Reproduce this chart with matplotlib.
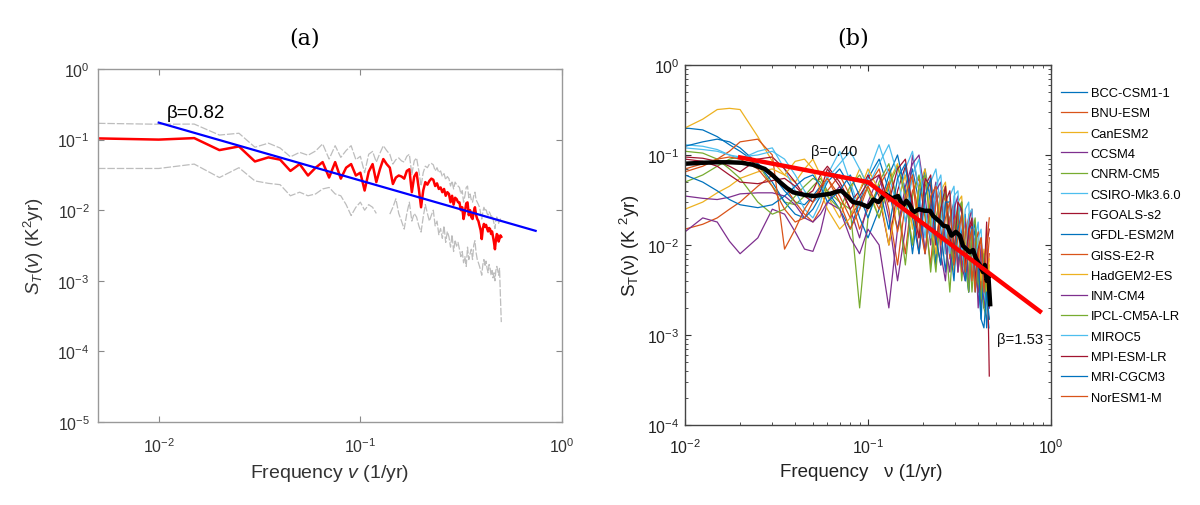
import numpy as np
import matplotlib
matplotlib.use('Agg')
import matplotlib.pyplot as plt
from matplotlib.ticker import NullLocator, LogLocator

plt.rcParams['font.family'] = ['Liberation Sans', 'DejaVu Sans']
plt.rcParams['mathtext.fontset'] = 'custom'
plt.rcParams['mathtext.rm'] = 'Liberation Sans'
plt.rcParams['mathtext.it'] = 'Liberation Sans:italic'
plt.rcParams['mathtext.bf'] = 'Liberation Sans:bold'

# ---------------- panel (a): observed spectrum, values in 1e-3 K^2 yr
freq_a = np.arange(1, 101) * 0.005
obs_red = [104, 100, 105, 71, 80, 49, 56, 52, 36, 45,
           31, 40, 48, 29, 48, 28, 40, 45, 31, 34,
           19, 35, 45, 25, 38, 53, 45, 40, 23.5, 29,
           31, 30, 28, 36, 38, 18, 30, 34, 20, 11,
           19, 25, 23, 26, 28, 27, 22, 24, 20, 21,
           18, 20, 16, 18, 17, 13, 16, 12, 15, 14.4,
           13, 12.9, 10, 11, 7.5, 9.5, 12.5, 12.9, 8.5, 10,
           8, 7.5, 9.5, 11, 8.5, 7.5, 7, 6, 5.2, 3.9,
           5.5, 6.4, 5.8, 6.2, 5.5, 5, 5.6, 5.4, 4.6, 5,
           4.2, 3.5, 2.8, 3.8, 4.6, 4.4, 3.6, 4, 4.4, 4.2]
obs_upper = [170, 165, 166, 116, 123, 78, 89, 76, 57, 66,
             60, 69, 87, 53, 82, 56, 70, 82, 52, 58,
             34, 62, 68, 48, 64, 82, 70, 62, 45, 52,
             55, 50, 48, 58, 62, 32, 50, 55, 36, 22,
             34, 42, 40, 45, 46, 44, 36, 40, 34, 36,
             30, 33, 27, 30, 28, 22, 26, 20, 25, 23,
             22, 21, 17, 19, 13, 16, 21, 22, 15, 17,
             14, 13, 16, 18, 14, 13, 12, 11, 9, 7.5,
             9.5, 11, 10, 10.5, 9, 8.5, 9.5, 9, 8, 8.5,
             7.5, 6.5, 5.5, 7, 8, 7.5, 6.5, 7, 7.5, 7]
obs_lower = [39, 39, 45, 29, 40, 26, 24, 23, 16, 18,
             16, 17, 20, 21, 17, 16, 12, 8.4, 11, 13,
             10, 12, 11, 9, np.nan, np.nan, np.nan, 8.8, 11, 14.5,
             9, 7, 5.4, 9, 13, 7, 9, 8, 6, 4.9,
             8, 12, 9, 7, 8.5, 10, 6, 7, 4.5, 5.5,
             4, 6, 3.5, 5, 4.2, 3, 4.5, 2.6, 3.8, 3.1,
             3.5, 2.8, 2.2, 2.6, 1.8, 2.2, 1.6, 3, 2, 2.4,
             2.8, 2, 3.2, 3.7, 2.5, 2, 1.8, 1.6, 1.4, 1.2,
             1.7, 2, 1.6, 1.9, 1.5, 1.3, 1.7, 1.5, 1.2, 1.4,
             1.1, 1.3, 1.0, 1.4, 1.6, 1.4, 1.2, 1.5, 0.6, 0.26]
fit_a_f = [0.01, 0.74]
fit_a_s = [0.174, 0.0051]

# ---------------- panel (b): CMIP5 model spectra, values in 1e-3 K^2 yr
freq_b = [0.010, 0.0125, 0.015, 0.0175, 0.020, 0.025, 0.030, 0.035, 0.040,
          0.045, 0.050, 0.055, 0.060, 0.070, 0.080, 0.090, 0.100,
          0.115, 0.130, 0.145, 0.160, 0.175, 0.190, 0.205, 0.220, 0.235,
          0.250, 0.265, 0.280, 0.295, 0.310, 0.325, 0.340, 0.355, 0.370,
          0.385, 0.400, 0.415, 0.430, 0.445, 0.460]

bcc = [200, 190, 160, 130, 110, 80, 60, 40, 30, 28, 35, 45, 40, 25, 15, 30, 55,
       90, 40, 15, 35, 70, 30, 8, 28, 45, 15, 5, 20, 30, 6, 14, 22, 4, 10, 15, 3, 7, 2, 5, 2.5]
bnu = [15, 17, 20, 25, 30, 45, 60, 45, 30, 22, 18, 25, 40, 60, 35, 15, 25,
       45, 70, 30, 8, 40, 55, 20, 6, 30, 40, 8, 20, 28, 5, 12, 20, 4, 12, 5, 9, 2, 6, 4, 8]
canesm = [200, 250, 320, 330, 320, 160, 85, 60, 50, 70, 90, 60, 35, 20, 40, 70, 45,
          20, 50, 80, 35, 10, 40, 60, 20, 6, 35, 45, 10, 5, 25, 30, 6, 4, 15, 8, 3, 9, 5, 2, 6]
ccsm = [14, 20, 18, 11, 8, 12, 25, 22, 14, 9, 8.5, 14, 30, 45, 25, 12, 30,
        60, 20, 4, 15, 100, 40, 8, 25, 50, 8, 4, 18, 25, 5, 12, 18, 3, 9, 12, 2, 6, 2, 4, 2]
cnrm = [50, 60, 75, 90, 95, 80, 45, 30, 28, 35, 45, 55, 40, 30, 25, 2, 20,
        50, 80, 30, 6, 35, 60, 25, 5, 20, 35, 12, 3, 15, 22, 4, 10, 14, 3, 8, 3, 5, 2, 1.5, 3]
csiro = [130, 125, 115, 100, 90, 110, 120, 70, 40, 25, 20, 30, 60, 110, 50, 25, 60,
         130, 60, 25, 70, 110, 40, 12, 50, 70, 25, 8, 35, 45, 10, 7, 25, 30, 5, 12, 18, 3, 8, 2, 5]
fgoals = [95, 92, 85, 75, 65, 90, 95, 70, 50, 35, 40, 60, 75, 50, 30, 40, 60,
          35, 10, 40, 75, 30, 8, 45, 60, 12, 6, 30, 40, 8, 20, 28, 5, 14, 18, 4, 10, 3, 7, 10, 15]
gfdl = [125, 140, 150, 140, 120, 80, 50, 30, 22, 20, 25, 35, 50, 70, 45, 20, 12,
        25, 60, 100, 40, 8, 30, 70, 30, 6, 25, 40, 10, 4, 20, 30, 6, 3, 12, 18, 4, 1.5, 6, 1.2, 3]
giss = [65, 75, 90, 110, 140, 150, 100, 9, 15, 25, 35, 40, 55, 30, 15, 25, 45,
        70, 25, 6, 30, 55, 12, 35, 50, 10, 25, 35, 7, 18, 25, 5, 14, 20, 4, 10, 14, 3, 8, 5, 12]
hadgem = [25, 30, 38, 45, 55, 65, 70, 60, 85, 90, 70, 40, 25, 15, 20, 40, 70,
          40, 10, 30, 60, 15, 45, 70, 18, 8, 40, 50, 12, 6, 30, 35, 8, 20, 25, 5, 12, 4, 9, 3, 7]
inm = [35, 33, 32, 34, 37, 38, 38, 35, 28, 20, 18, 22, 30, 25, 12, 8, 15,
       10, 2, 15, 45, 80, 100, 35, 10, 40, 50, 10, 5, 25, 35, 6, 4, 18, 25, 5, 3, 10, 2.5, 6, 2]
ipsl = [110, 105, 90, 70, 55, 30, 22, 25, 35, 45, 55, 50, 35, 25, 45, 60, 40,
        20, 45, 75, 35, 10, 45, 60, 15, 5, 25, 40, 10, 6, 22, 30, 7, 3, 14, 20, 4, 2.5, 8, 2, 1.5]
miroc = [120, 115, 110, 100, 95, 100, 110, 90, 60, 40, 30, 35, 55, 80, 110, 70, 45,
         80, 130, 60, 18, 60, 90, 25, 12, 45, 60, 14, 8, 35, 40, 9, 5, 22, 25, 5, 12, 15, 3, 2, 1.2]
mpi = [90, 85, 75, 60, 50, 48, 52, 55, 45, 35, 30, 40, 70, 45, 25, 35, 50,
       60, 30, 70, 90, 25, 12, 55, 45, 10, 25, 45, 12, 8, 30, 25, 6, 15, 20, 4, 9, 12, 4, 18, 0.35]
mri = [60, 50, 40, 32, 28, 26, 28, 35, 45, 55, 60, 45, 30, 40, 60, 35, 20,
       45, 15, 55, 80, 20, 8, 35, 55, 12, 6, 30, 30, 6, 15, 22, 4, 10, 16, 3, 7, 1.5, 1.2, 3, 1.5]
noresm = [70, 80, 90, 95, 90, 70, 45, 25, 18, 20, 30, 45, 55, 35, 20, 30, 45,
          25, 50, 14, 35, 60, 18, 8, 35, 45, 10, 20, 30, 6, 12, 22, 5, 10, 15, 3, 8, 12, 3, 10, 20]

model_names = ['BCC-CSM1-1', 'BNU-ESM', 'CanESM2', 'CCSM4', 'CNRM-CM5',
               'CSIRO-Mk3.6.0', 'FGOALS-s2', 'GFDL-ESM2M', 'GISS-E2-R',
               'HadGEM2-ES', 'INM-CM4', 'IPCL-CM5A-LR', 'MIROC5',
               'MPI-ESM-LR', 'MRI-CGCM3', 'NorESM1-M']
model_vals = [bcc, bnu, canesm, ccsm, cnrm, csiro, fgoals, gfdl, giss,
              hadgem, inm, ipsl, miroc, mpi, mri, noresm]

mean_f = [0.010, 0.0125, 0.015, 0.0175, 0.0204, 0.0235, 0.0273, 0.030, 0.033,
          0.036, 0.039, 0.045, 0.051, 0.056, 0.062, 0.067, 0.0716, 0.077,
          0.0828, 0.09, 0.100, 0.107, 0.114, 0.124, 0.135, 0.146, 0.155,
          0.162, 0.169, 0.177, 0.19, 0.204, 0.218, 0.227, 0.237, 0.248,
          0.258, 0.272, 0.286, 0.302, 0.318, 0.33, 0.345, 0.36, 0.375,
          0.39, 0.41, 0.425, 0.435, 0.445, 0.455, 0.465]
mean_s = [80, 82, 83, 83, 82, 78, 70, 60, 50, 43, 38.5, 36, 35, 36, 37, 39, 40,
          35, 30, 29, 26.5, 32, 30, 37, 33, 35, 27, 31, 28, 23, 25, 24, 24, 21,
          19.5, 18, 16.4, 16, 12.7, 14, 12.7, 9.8, 9, 8.3, 8.8, 7, 5.9, 5, 6,
          4, 4.5, 2.2]
fit_b_f = [0.02, 0.1, 0.87]
fit_b_s = [0.094, 0.050, 0.00183]

matlab_colors = ['#0072BD', '#D95319', '#EDB120', '#7E2F8E',
                 '#77AC30', '#4DBEEE', '#A2142F']

fig = plt.figure(figsize=(12, 5.06), dpi=100)

# ---- (a)
ax1 = fig.add_axes([98/1200, 1-423/506, 464/1200, 353/506])
gray_ls = (0, (6, 1.5))
ax1.loglog(freq_a, np.array(obs_upper)/1000, color='#bdbdbd', lw=0.9, ls=gray_ls)
ax1.loglog(freq_a, np.array(obs_lower)/1000, color='#bdbdbd', lw=0.9, ls=gray_ls)
ax1.loglog(freq_a, np.array(obs_red)/1000, color='#ff0000', lw=1.8)
ax1.loglog(fit_a_f, fit_a_s, color='#0000ff', lw=1.6)
ax1.set_xlim(0.005, 1)
ax1.set_ylim(1e-5, 1)
ax1.set_xticks([1e-2, 1e-1, 1])
ax1.set_yticks([1e-5, 1e-4, 1e-3, 1e-2, 1e-1, 1])
ax1.xaxis.set_minor_locator(NullLocator())
ax1.yaxis.set_minor_locator(NullLocator())
ax1.tick_params(which='both', direction='in', top=True, right=True,
                length=4, width=0.8, color='#888888', labelsize=11.5,
                labelcolor='#333333')
ax1.tick_params(axis='x', pad=10)
ax1.tick_params(axis='y', pad=6)
for s in ax1.spines.values():
    s.set_color('#999999')
    s.set_linewidth(1.0)
ax1.set_xlabel(r'Frequency $v$ (1/yr)', fontsize=14, color='#333333')
ax1.set_ylabel(r'$S_T(v)$ (K$^2$yr)', fontsize=13.5, color='#333333')
ax1.xaxis.set_label_coords(0.5, -0.112)
ax1.yaxis.set_label_coords(-0.112, 0.5)
ax1.text((167-98)/464, (423-113)/353, 'β=0.82', transform=ax1.transAxes,
         fontsize=13.5, ha='left', va='center', color='black')

# ---- (b)
ax2 = fig.add_axes([685/1200, 1-426/506, 366/1200, 360/506])
handles = []
for i, (name, vals) in enumerate(zip(model_names, model_vals)):
    h, = ax2.loglog(freq_b, np.array(vals)/1000, color=matlab_colors[i % 7],
                    lw=0.9, label=name)
    handles.append(h)
ax2.loglog(mean_f, np.array(mean_s)/1000, color='black', lw=3.2)
ax2.loglog(fit_b_f, fit_b_s, color='#ff0000', lw=3.2)
ax2.set_xlim(0.01, 1)
ax2.set_ylim(1e-4, 1)
ax2.set_xticks([1e-2, 1e-1, 1])
ax2.set_yticks([1e-4, 1e-3, 1e-2, 1e-1, 1])
ax2.xaxis.set_minor_locator(LogLocator(subs=np.arange(2, 10), numticks=20))
ax2.yaxis.set_minor_locator(LogLocator(subs=np.arange(2, 10), numticks=20))
ax2.tick_params(which='both', direction='in', top=True, right=True,
                color='#333333', labelsize=11.5, labelcolor='#222222')
ax2.tick_params(which='major', length=4, width=0.8)
ax2.tick_params(which='minor', length=2, width=0.6)
ax2.tick_params(axis='x', pad=9)
ax2.tick_params(axis='y', pad=4)
for s in ax2.spines.values():
    s.set_color('#444444')
    s.set_linewidth(1.0)
ax2.set_xlabel('Frequency   ν (1/yr)', fontsize=13.5, color='#222222')
ax2.set_ylabel(r'S$_{\rm T}$(ν) (K $^{2}$yr)', fontsize=13.5, color='#222222')
ax2.xaxis.set_label_coords(0.482, -0.105)
ax2.yaxis.set_label_coords(-0.1175, 0.5)
ax2.text((811-685)/366, (426-152)/360, 'β=0.40', transform=ax2.transAxes,
         fontsize=10.7, ha='left', va='center', color='#111111')
ax2.text((997-685)/366, (426-340)/360, 'β=1.53', transform=ax2.transAxes,
         fontsize=10.7, ha='left', va='center', color='#111111')

fig.legend(handles=handles, loc='upper left', bbox_to_anchor=(1061/1200, 1-88/506),
           frameon=False, fontsize=9.3, handlelength=2.0, handletextpad=0.3,
           labelspacing=0.64, borderpad=0, borderaxespad=0)

fig.text(305/1200, 1-38/506, '(a)', ha='center', va='center',
         family='DejaVu Serif', fontsize=16)
fig.text(853/1200, 1-38/506, '(b)', ha='center', va='center',
         family='DejaVu Serif', fontsize=16)

fig.savefig('out.png', dpi=100)
